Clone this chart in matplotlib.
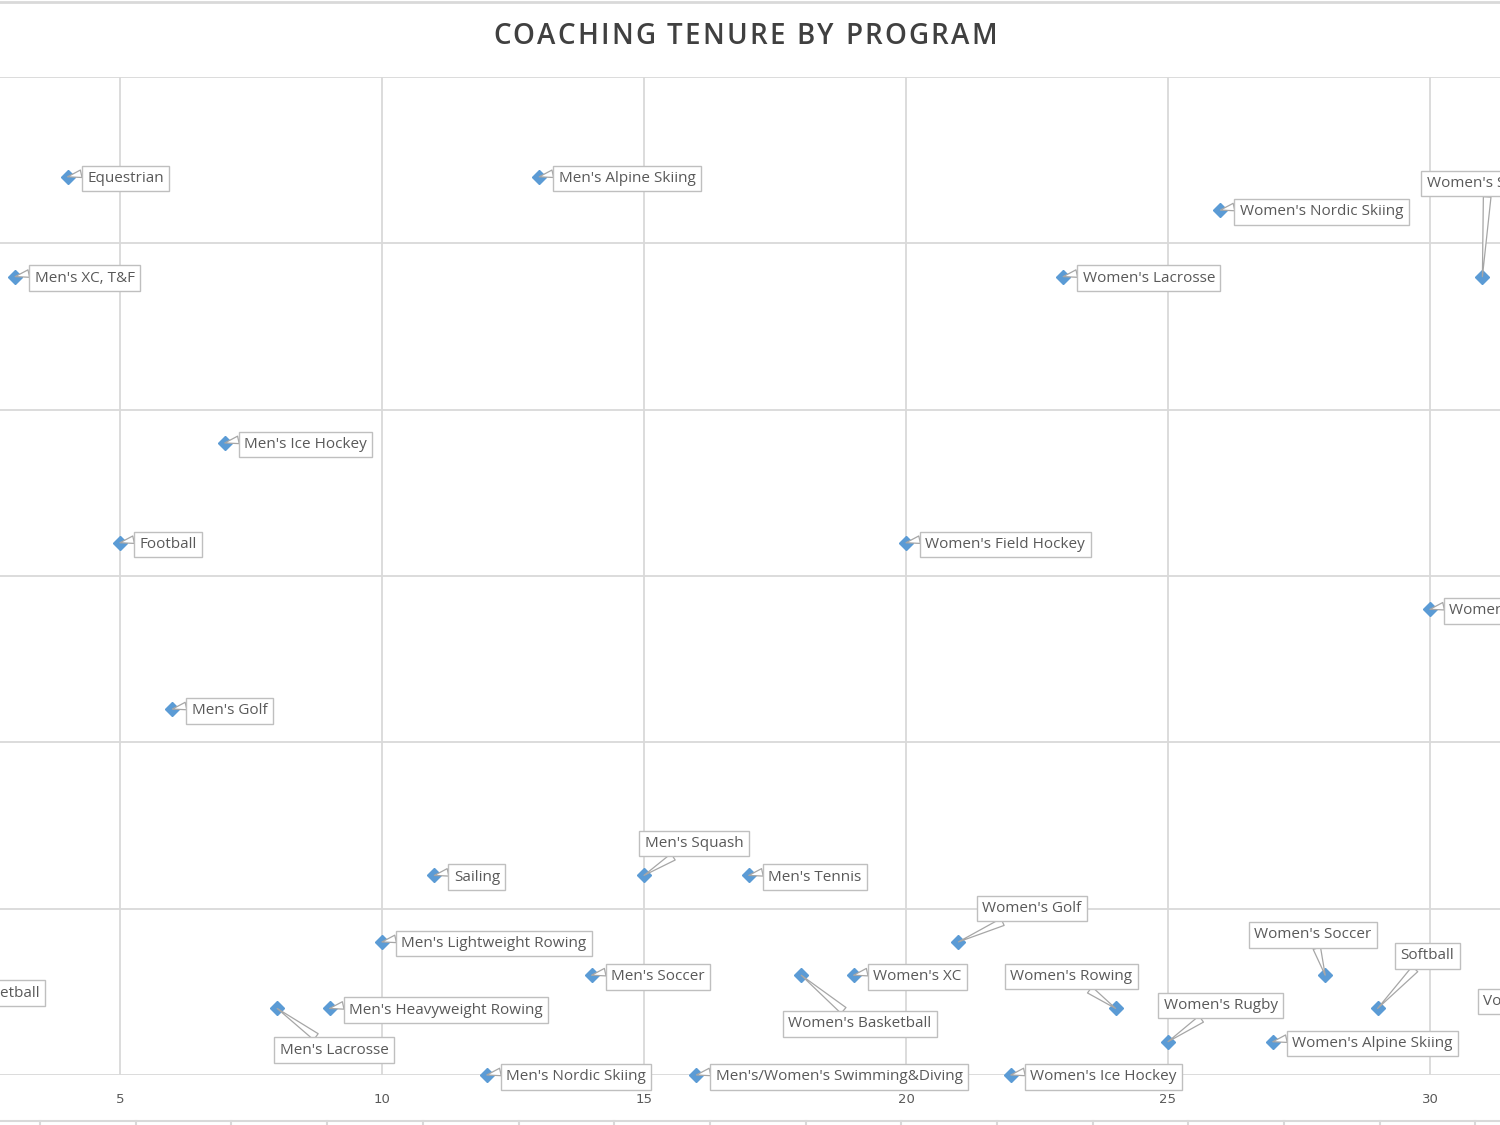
import numpy as np
import matplotlib
matplotlib.use('Agg')
import matplotlib.pyplot as plt

# program, tenure (years, x) and y position
programs = ['Equestrian', "Men's XC, T&F", "Men's Alpine Skiing", "Women's Nordic Skiing",
            "Women's Lacrosse", "Women's Squash", "Men's Ice Hockey", 'Football',
            "Women's Field Hockey", "Women's Tennis", "Men's Golf", 'Sailing',
            "Men's Squash", "Men's Tennis", "Men's Lightweight Rowing", "Women's Golf",
            "Men's Soccer", "Women's Basketball", "Women's XC", "Women's Soccer",
            "Men's Basketball", "Men's Heavyweight Rowing", "Men's Lacrosse",
            "Women's Rowing", 'Softball', 'Volleyball', "Women's Rugby",
            "Women's Alpine Skiing", "Men's Nordic Skiing",
            "Men's/Women's Swimming&Diving", "Women's Ice Hockey"]
tenure = [4, 3, 13, 26, 23, 31, 7, 5, 20, 30, 6, 11, 15, 17, 10, 21,
          14, 18, 19, 28, 1, 9, 8, 24, 29, 32, 25, 27, 12, 16, 22]
rank = [27, 24, 27, 26, 24, 24, 19, 16, 16, 14, 11, 6, 6, 6, 4, 4,
        3, 3, 3, 3, 3, 2, 2, 2, 2, 2, 1, 1, 0, 0, 0]

title = 'COACHING TENURE BY PROGRAM'

# label placement: (dx, dy) in points from the marker, horizontal alignment
callouts = {
    "Women's Squash": (-40, 67, 'left'),
    "Men's Squash": (36, 23, 'center'),
    "Women's Golf": (53, 24, 'center'),
    "Women's Basketball": (42, -35, 'center'),
    "Men's Basketball": (93, -13, 'right'),
    "Men's Lacrosse": (41, -30, 'center'),
    "Women's Rowing": (-32, 23, 'center'),
    'Softball': (36, 38, 'center'),
    'Volleyball': (-37, 5, 'left'),
    "Women's Rugby": (38, 26, 'center'),
    "Women's Soccer": (-9, 29, 'center'),
}

fig = plt.figure(figsize=(15, 11.25), dpi=100)
ax = fig.add_axes([0, 50 / 1125, 1, 998 / 1125])
ax.set_xlim(5 - 120 / 52.4, 5 + 1380 / 52.4)
ax.set_ylim(0, 30)

grid = '#d9d9d9'
ax.set_xticks([5, 10, 15, 20, 25, 30])
ax.set_yticks(np.arange(0, 31, 5))
ax.grid(True, color=grid, lw=1.3)
ax.set_axisbelow(True)
for s in ax.spines.values():
    s.set_visible(False)
ax.tick_params(length=0, labelsize=9.5, labelcolor='#595959', pad=13)
ax.set_yticklabels([])

ax.plot(tenure, rank, 'D', color='#5b9bd5', markersize=7, clip_on=False, zorder=5)

for name, x, y in zip(programs, tenure, rank):
    dx, dy, ha = callouts.get(name, (14, -1.2, 'left'))
    ax.annotate(name, (x, y), xytext=(dx, dy), textcoords='offset points',
                ha=ha, va='center', fontsize=11, color='#595959', family='Open Sans',
                annotation_clip=False, zorder=6,
                bbox=dict(boxstyle='square,pad=0.35', fc='white', ec='#bfbfbf', lw=1.0),
                arrowprops=dict(arrowstyle='wedge,tail_width=0.5', fc='white', ec='#a6a6a6',
                                lw=0.9, shrinkA=0, shrinkB=0,
                                relpos=(0, 0.9) if ha == 'left' and dx > 0 else (0.5, 0.5)))

# title with letter spacing, placed char by char
tkw = dict(fontsize=20, color='#404040', family='Open Sans', weight='semibold', va='center')
r = fig.canvas.get_renderer()
probe = fig.text(0, 0, '', **tkw)
def txt_w(s):
    probe.set_text(s)
    return probe.get_window_extent(r).width
widths = []
for ch in title:
    widths.append(txt_w('I' + ch + 'I') - txt_w('II'))
probe.remove()
gap = (504 - sum(widths)) / (len(title) - 1)
xpos = 745 - 504 / 2
for ch, w in zip(title, widths):
    if ch != ' ':
        fig.text(xpos / 1500, 1 - 36 / 1125, ch, ha='left', **tkw)
    xpos += w + gap

# chart border top / sheet cells bottom
fig.add_artist(plt.Line2D([0, 1], [1 - 2 / 1125, 1 - 2 / 1125], color=grid, lw=2))
fig.add_artist(plt.Line2D([0, 1], [4 / 1125, 4 / 1125], color=grid, lw=1.5))
for cx in np.arange(40, 1500, 95.7):
    fig.add_artist(plt.Line2D([cx / 1500, cx / 1500], [0, 4 / 1125], color=grid, lw=1.5))

fig.savefig('out.png', dpi=100, facecolor='white')
